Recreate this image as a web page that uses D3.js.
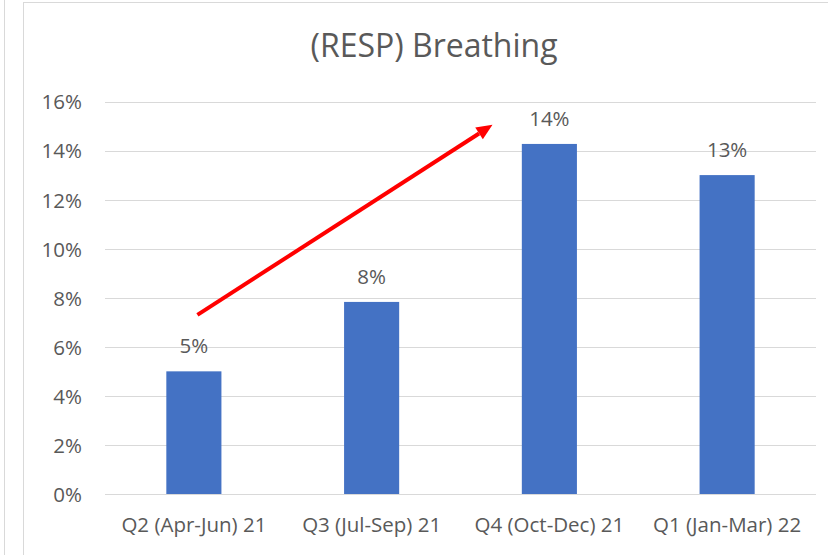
<!DOCTYPE html>
<html>
<head>
<meta charset="utf-8">
<script src="https://cdn.jsdelivr.net/npm/d3@7"></script>
<style>
  html, body { margin: 0; padding: 0; background: #ffffff; }
  svg { display: block; }
  text { font-family: "Open Sans", sans-serif; fill: #595959; }
</style>
</head>
<body>
<svg id="chart" width="828" height="555"></svg>
<script>
// Quarterly share for (RESP) Breathing
const categories = ["Q2 (Apr-Jun) 21", "Q3 (Jul-Sep) 21", "Q4 (Oct-Dec) 21", "Q1 (Jan-Mar) 22"];
const values = [0.05, 0.0783, 0.1427, 0.13];
const valueLabels = ["5%", "8%", "14%", "13%"];
const yTicks = [0, 0.02, 0.04, 0.06, 0.08, 0.10, 0.12, 0.14, 0.16];
const title = "(RESP) Breathing";

// Trend arrow, in data terms: category index offset and value
const trendStart = { cat: 0, offset: 0.02, value: 0.073 };
const trendEnd = { cat: 2, offset: -0.32, value: 0.1505 };

const svg = d3.select("#chart");
const W = 828, H = 555;
const plot = { left: 105, right: 816, top: 101.5, bottom: 494 };
const FONT = "'Open Sans', sans-serif";
const labelSize = 20.5;

// Frames
svg.append("line").attr("x1", 4.5).attr("x2", 4.5).attr("y1", 0).attr("y2", H)
  .attr("stroke", "#d9d9d9").attr("stroke-width", 1);
svg.append("rect").attr("x", 23.5).attr("y", 2.5).attr("width", W).attr("height", H)
  .attr("fill", "#ffffff").attr("stroke", "#d9d9d9").attr("stroke-width", 1);

const x = d3.scaleBand().domain(categories).range([plot.left, plot.right])
  .paddingInner(0.69).paddingOuter(0.345);
const y = d3.scaleLinear().domain([0, 0.16]).range([plot.bottom, plot.top]);

// Gridlines
svg.append("g").selectAll("line").data(yTicks).join("line")
  .attr("x1", plot.left).attr("x2", plot.right)
  .attr("y1", d => Math.round(y(d)) + 0.5).attr("y2", d => Math.round(y(d)) + 0.5)
  .attr("stroke", "#d9d9d9").attr("stroke-width", 1);

// Y axis labels
const yAxis = d3.axisLeft(y).tickValues(yTicks).tickFormat(d3.format(".0%")).tickSize(0).tickPadding(0);
const yg = svg.append("g").attr("transform", `translate(82,0)`).call(yAxis);
yg.select(".domain").remove();
yg.selectAll("text").attr("font-size", labelSize).style("font-family", FONT).attr("fill", "#595959").attr("dy", "0.36em");

// X axis labels
const xAxis = d3.axisBottom(x).tickSize(0).tickPadding(0);
const xg = svg.append("g").attr("transform", `translate(0,${plot.bottom + 38})`).call(xAxis);
xg.select(".domain").remove();
xg.selectAll("text").attr("font-size", labelSize).style("font-family", FONT).attr("fill", "#595959").attr("dy", 0);

// Bars
const data = categories.map((c, i) => ({ c, v: values[i], label: valueLabels[i] }));
svg.append("g").selectAll("rect").data(data).join("rect")
  .attr("x", d => x(d.c)).attr("width", x.bandwidth())
  .attr("y", d => y(d.v)).attr("height", d => y(0) - y(d.v))
  .attr("fill", "#4472c4");

// Value labels
svg.append("g").selectAll("text").data(data).join("text")
  .attr("x", d => x(d.c) + x.bandwidth() / 2)
  .attr("y", d => y(d.v) - 18)
  .attr("text-anchor", "middle").attr("font-size", labelSize)
  .text(d => d.label);

// Title
svg.append("text").attr("x", 434).attr("y", 57).attr("text-anchor", "middle")
  .attr("font-size", 32).text(title);

// Trend arrow
const px = p => x(categories[p.cat]) + x.bandwidth() / 2 + p.offset * x.step();
const x1 = px(trendStart), y1 = y(trendStart.value);
const x2 = px(trendEnd), y2 = y(trendEnd.value);
const ang = Math.atan2(y2 - y1, x2 - x1);
const headLen = 16, headW = 7;
const bx = x2 - headLen * Math.cos(ang), by = y2 - headLen * Math.sin(ang);
svg.append("line").attr("x1", x1).attr("y1", y1).attr("x2", bx).attr("y2", by)
  .attr("stroke", "#ff0000").attr("stroke-width", 4);
svg.append("path")
  .attr("d", d3.line()([
    [x2, y2],
    [bx + headW * Math.sin(ang), by - headW * Math.cos(ang)],
    [bx - headW * Math.sin(ang), by + headW * Math.cos(ang)]
  ]) + "Z")
  .attr("fill", "#ff0000");
</script>
</body>
</html>
